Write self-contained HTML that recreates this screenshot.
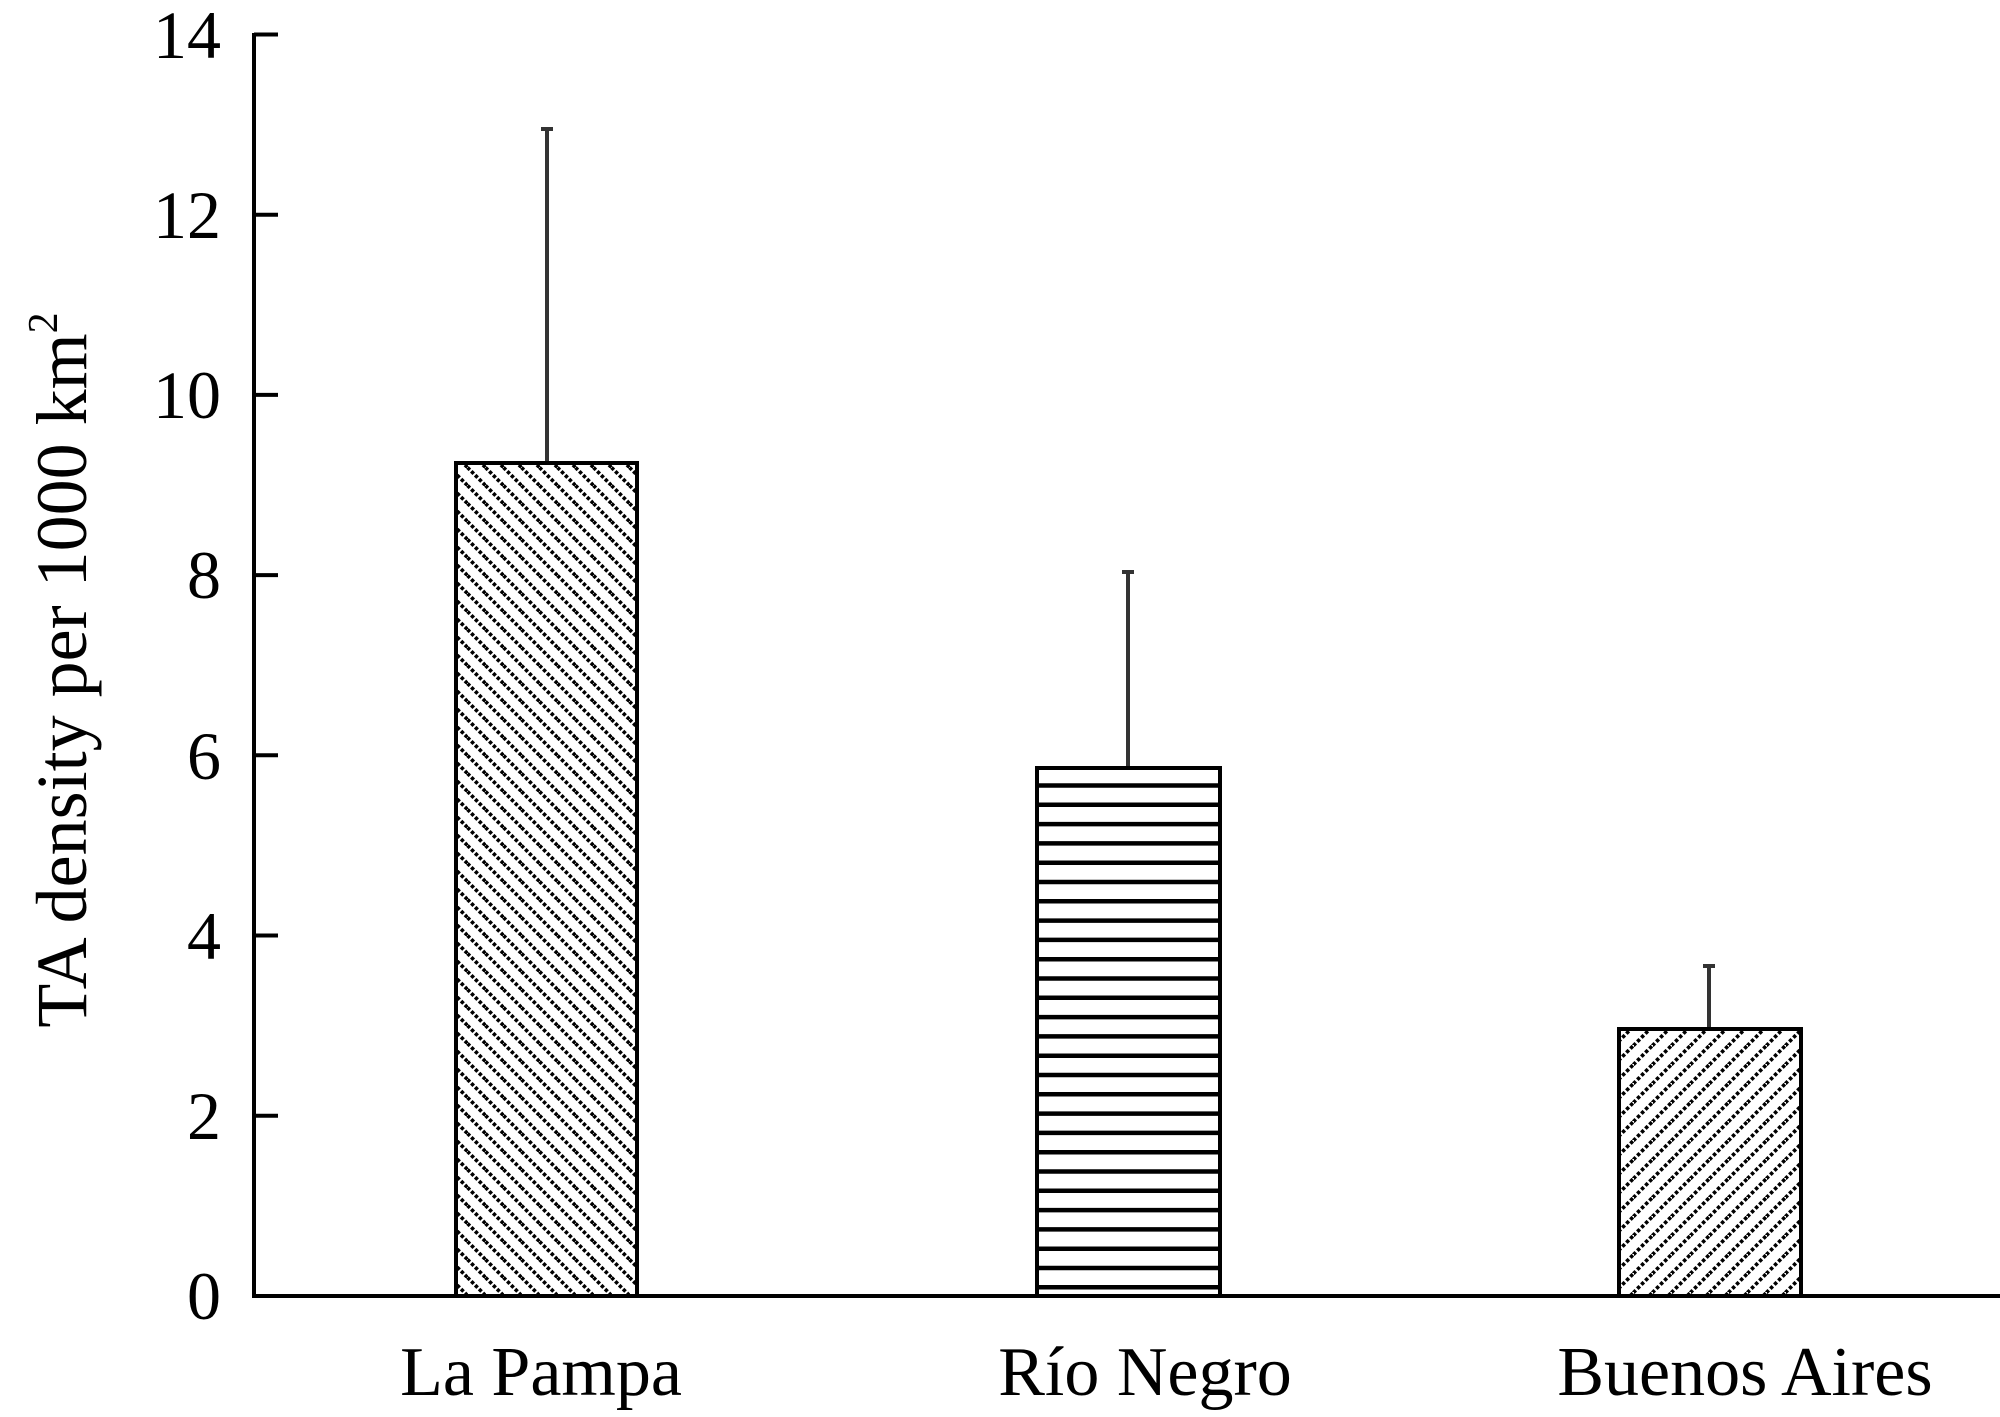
<!DOCTYPE html>
<html><head><style>body{margin:0;background:#fff}svg{display:block}</style></head>
<body>
<svg width="2000" height="1417" viewBox="0 0 2000 1417" xmlns="http://www.w3.org/2000/svg" font-family="Liberation Serif, serif">
<defs>
<pattern id="p1" patternUnits="userSpaceOnUse" width="18" height="18">
<path d="M-4.5,-4.5 L22.5,22.5 M-4.5,13.5 L4.5,22.5 M13.5,-4.5 L22.5,4.5" stroke="#000" stroke-width="3.6" stroke-dasharray="3.5 2"/>
</pattern>
<pattern id="p3" patternUnits="userSpaceOnUse" width="19" height="19">
<path d="M-4.75,23.75 L23.75,-4.75 M-4.75,4.75 L4.75,-4.75 M14.25,23.75 L23.75,14.25" stroke="#000" stroke-width="3.6" stroke-dasharray="3.5 2.2"/>
</pattern>
</defs>
<line x1="254" y1="33" x2="254" y2="1297" stroke="#000" stroke-width="4"/>
<line x1="252" y1="1296" x2="2000" y2="1296" stroke="#000" stroke-width="4"/>
<g stroke="#000" stroke-width="4">
<line x1="254" y1="34.5" x2="278" y2="34.5"/>
<line x1="254" y1="214.7" x2="278" y2="214.7"/>
<line x1="254" y1="394.9" x2="278" y2="394.9"/>
<line x1="254" y1="575.1" x2="278" y2="575.1"/>
<line x1="254" y1="755.3" x2="278" y2="755.3"/>
<line x1="254" y1="935.5" x2="278" y2="935.5"/>
<line x1="254" y1="1115.7" x2="278" y2="1115.7"/>
</g>
<g font-size="68" text-anchor="end" fill="#000">
<text x="221" y="58">14</text>
<text x="221" y="238">12</text>
<text x="221" y="418">10</text>
<text x="221" y="598">8</text>
<text x="221" y="779">6</text>
<text x="221" y="959">4</text>
<text x="221" y="1139">2</text>
<text x="221" y="1319">0</text>
</g>
<text transform="translate(86,670) rotate(-90)" font-size="72" text-anchor="middle">TA density per 1000 km<tspan font-size="42" dy="-29">2</tspan></text>
<g stroke="#333" stroke-width="4">
<line x1="547" y1="129" x2="547" y2="463"/><line x1="541" y1="129" x2="553" y2="129"/>
<line x1="1128" y1="572" x2="1128" y2="768"/><line x1="1122" y1="572" x2="1134" y2="572"/>
<line x1="1709" y1="966" x2="1709" y2="1029"/><line x1="1703" y1="966" x2="1715" y2="966"/>
</g>
<rect x="456" y="463" width="181" height="833" fill="url(#p1)" stroke="#000" stroke-width="4"/>
<rect x="1037" y="768" width="183" height="528" fill="#fff" stroke="#000" stroke-width="4"/>
<g stroke="#000" stroke-width="4.5">
<line x1="1037" y1="785.5" x2="1220" y2="785.5"/>
<line x1="1037" y1="804.8" x2="1220" y2="804.8"/>
<line x1="1037" y1="824.1" x2="1220" y2="824.1"/>
<line x1="1037" y1="843.4" x2="1220" y2="843.4"/>
<line x1="1037" y1="862.7" x2="1220" y2="862.7"/>
<line x1="1037" y1="882" x2="1220" y2="882"/>
<line x1="1037" y1="901.3" x2="1220" y2="901.3"/>
<line x1="1037" y1="920.6" x2="1220" y2="920.6"/>
<line x1="1037" y1="939.9" x2="1220" y2="939.9"/>
<line x1="1037" y1="959.2" x2="1220" y2="959.2"/>
<line x1="1037" y1="978.5" x2="1220" y2="978.5"/>
<line x1="1037" y1="997.8" x2="1220" y2="997.8"/>
<line x1="1037" y1="1017.1" x2="1220" y2="1017.1"/>
<line x1="1037" y1="1036.4" x2="1220" y2="1036.4"/>
<line x1="1037" y1="1055.7" x2="1220" y2="1055.7"/>
<line x1="1037" y1="1075" x2="1220" y2="1075"/>
<line x1="1037" y1="1094.3" x2="1220" y2="1094.3"/>
<line x1="1037" y1="1113.6" x2="1220" y2="1113.6"/>
<line x1="1037" y1="1132.9" x2="1220" y2="1132.9"/>
<line x1="1037" y1="1152.2" x2="1220" y2="1152.2"/>
<line x1="1037" y1="1171.5" x2="1220" y2="1171.5"/>
<line x1="1037" y1="1190.8" x2="1220" y2="1190.8"/>
<line x1="1037" y1="1210.1" x2="1220" y2="1210.1"/>
<line x1="1037" y1="1229.4" x2="1220" y2="1229.4"/>
<line x1="1037" y1="1248.7" x2="1220" y2="1248.7"/>
<line x1="1037" y1="1268" x2="1220" y2="1268"/>
<line x1="1037" y1="1287.3" x2="1220" y2="1287.3"/>
</g>
<rect x="1619" y="1029" width="182" height="267" fill="url(#p3)" stroke="#000" stroke-width="4"/>
<g font-size="70" text-anchor="middle">
<text x="541" y="1395">La Pampa</text>
<text x="1145" y="1395">Río Negro</text>
<text x="1745" y="1395">Buenos Aires</text>
</g>
</svg>
</body></html>
